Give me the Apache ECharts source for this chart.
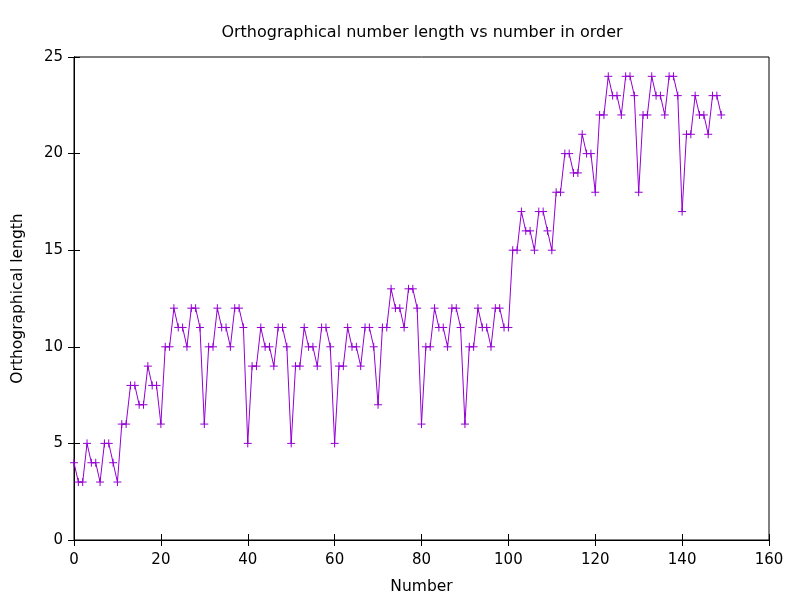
<!DOCTYPE html>
<html>
<head>
<meta charset="utf-8">
<script src="https://cdn.jsdelivr.net/npm/echarts@6/dist/echarts.min.js"></script>
<style>html,body{margin:0;padding:0;background:#fff}#c{width:800px;height:600px}</style>
</head>
<body>
<div id="c"></div>
<script>
const numbers = [];
for (let i = 0; i < 150; i++) numbers.push(i);
const lengths = [
  4,3,3,5,4,4,3,5,5,4,
  3,6,6,8,8,7,7,9,8,8,
  6,10,10,12,11,11,10,12,12,11,
  6,10,10,12,11,11,10,12,12,11,
  5,9,9,11,10,10,9,11,11,10,
  5,9,9,11,10,10,9,11,11,10,
  5,9,9,11,10,10,9,11,11,10,
  7,11,11,13,12,12,11,13,13,12,
  6,10,10,12,11,11,10,12,12,11,
  6,10,10,12,11,11,10,12,12,11,
  11,15,15,17,16,16,15,17,17,16,
  15,18,18,20,20,19,19,21,20,20,
  18,22,22,24,23,23,22,24,24,23,
  18,22,22,24,23,23,22,24,24,23,
  17,21,21,23,22,22,21,23,23,22
];
const xTicks = [0,20,40,60,80,100,120,140,160];
const yTicks = [0,5,10,15,20,25];

const font = 'DejaVu Sans';
const chart = echarts.init(document.getElementById('c'));
const tickStyle = {show:true, inside:true, length:6, lineStyle:{color:'#000', width:1}};
chart.setOption({
  animation:false,
  backgroundColor:'#fff',
  title:{text:'Orthographical number length vs number in order', left:417, textAlign:'center', top:20,
    textStyle:{fontFamily:font, fontSize:16, fontWeight:'normal', color:'#000'}},
  grid:{left:74, right:31, top:57, bottom:60, show:true, borderColor:'#000', borderWidth:1},
  xAxis:[
    {type:'value', min:xTicks[0], max:xTicks[xTicks.length-1], interval:20, position:'bottom',
     name:'Number', nameLocation:'middle', nameGap:39,
     nameTextStyle:{fontFamily:font, fontSize:15.5, color:'#000'},
     axisLine:{show:true, lineStyle:{color:'#000'}}, axisTick:tickStyle,
     axisLabel:{fontFamily:font, fontSize:15, color:'#000', margin:13}, splitLine:{show:false}},
    {type:'value', min:xTicks[0], max:xTicks[xTicks.length-1], interval:20, position:'top',
     axisLine:{show:true, lineStyle:{color:'#000'}}, axisTick:tickStyle,
     axisLabel:{show:false}, splitLine:{show:false}}
  ],
  yAxis:[
    {type:'value', min:yTicks[0], max:yTicks[yTicks.length-1], interval:5, position:'left',
     name:'Orthographical length', nameLocation:'middle', nameGap:48,
     nameTextStyle:{fontFamily:font, fontSize:15.5, color:'#000'},
     axisLine:{show:true, lineStyle:{color:'#000'}}, axisTick:tickStyle,
     axisLabel:{fontFamily:font, fontSize:15, color:'#000', margin:11}, splitLine:{show:false}},
    {type:'value', min:yTicks[0], max:yTicks[yTicks.length-1], interval:5, position:'right',
     axisLine:{show:true, lineStyle:{color:'#000'}}, axisTick:tickStyle,
     axisLabel:{show:false}, splitLine:{show:false}}
  ],
  series:[{
    type:'line',
    data:numbers.map((n,i)=>[n,lengths[i]]),
    xAxisIndex:0, yAxisIndex:0,
    lineStyle:{color:'#9400d3', width:1},
    symbol:'path://M0,5L10,5M5,0L5,10',
    symbolSize:8,
    showAllSymbol:true,
    itemStyle:{color:'#9400d3', borderColor:'#9400d3', borderWidth:1},
    emphasis:{disabled:true}
  }]
});
</script>
</body>
</html>
